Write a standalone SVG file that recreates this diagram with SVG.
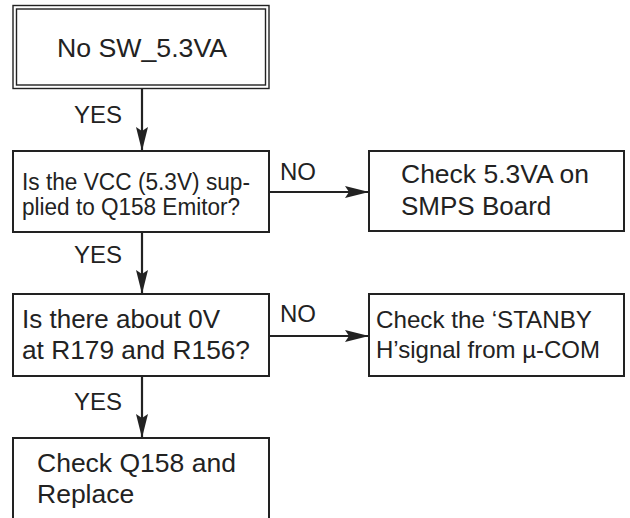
<svg xmlns="http://www.w3.org/2000/svg" width="630" height="518" viewBox="0 0 630 518">
<style>
.box{fill:#fff;stroke:#222;stroke-width:2}
.dbl{fill:none;stroke:#222;stroke-width:1.4}
.t{font-family:"Liberation Sans",Arial,Helvetica,sans-serif;fill:#222}
.lbl{font-family:"Liberation Sans",Arial,Helvetica,sans-serif;fill:#222;font-size:24px}
.conn{stroke:#222;stroke-width:2.2;fill:none;marker-end:url(#ah)}
</style>
<defs>
<marker id="ah" markerUnits="userSpaceOnUse" markerWidth="26" markerHeight="14" refX="24" refY="6.5" orient="auto">
<path d="M0,0.5 L24,6.5 L0,12.5 L4,6.5 z" fill="#222"/>
</marker>
</defs>
<rect width="630" height="518" fill="#fff"/>
<g id="connectors">
<line class="conn" x1="142" y1="88" x2="142" y2="151"/>
<line class="conn" x1="142" y1="232" x2="142" y2="294"/>
<line class="conn" x1="142" y1="376" x2="142" y2="438"/>
<line class="conn" x1="269" y1="192" x2="369" y2="192"/>
<line class="conn" x1="269" y1="336" x2="369" y2="336"/>
<text class="lbl" x="74" y="123">YES</text>
<text class="lbl" x="74" y="263">YES</text>
<text class="lbl" x="74" y="410">YES</text>
<text class="lbl" x="280" y="180">NO</text>
<text class="lbl" x="280" y="322">NO</text>
</g>
<g id="start">
<rect class="dbl" x="13" y="5.5" width="256" height="83"/>
<rect class="dbl" x="16.5" y="9" width="249" height="76"/>
<text class="t" x="57" y="57" font-size="26" textLength="170" lengthAdjust="spacingAndGlyphs">No SW_5.3VA</text>
</g>
<g id="q1">
<rect class="box" x="13" y="151" width="256" height="81"/>
<text class="t" x="22" y="190" font-size="23" textLength="228" lengthAdjust="spacingAndGlyphs">Is the VCC (5.3V) sup-</text>
<text class="t" x="22" y="215" font-size="23" textLength="218" lengthAdjust="spacingAndGlyphs">plied to Q158 Emitor?</text>
</g>
<g id="a1">
<rect class="box" x="369" y="151" width="255" height="80"/>
<text class="t" x="401" y="183" font-size="26" textLength="188" lengthAdjust="spacingAndGlyphs">Check 5.3VA on</text>
<text class="t" x="401" y="215" font-size="26">SMPS Board</text>
</g>
<g id="q2">
<rect class="box" x="13" y="294" width="256" height="82"/>
<text class="t" x="22" y="328" font-size="26">Is there about 0V</text>
<text class="t" x="22" y="359" font-size="26" textLength="228" lengthAdjust="spacingAndGlyphs">at R179 and R156?</text>
</g>
<g id="a2">
<rect class="box" x="369" y="294" width="255" height="82"/>
<text class="t" x="376" y="328" font-size="24" textLength="216" lengthAdjust="spacingAndGlyphs">Check the ‘STANBY</text>
<text class="t" x="376" y="358" font-size="24" textLength="224" lengthAdjust="spacingAndGlyphs">H’signal from µ-COM</text>
</g>
<g id="end">
<rect class="box" x="13" y="438" width="256" height="100"/>
<text class="t" x="37" y="472" font-size="26.5">Check Q158 and</text>
<text class="t" x="37" y="503" font-size="26.5">Replace</text>
</g>
</svg>
